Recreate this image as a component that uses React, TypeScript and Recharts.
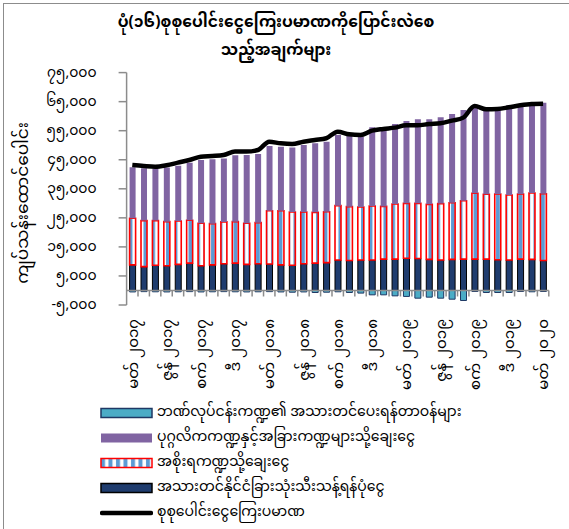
import React from 'react';
import { ComposedChart, Bar, Line, XAxis, YAxis, ReferenceLine, Legend } from 'recharts';

// Myanmar month short names; the series runs monthly from Mar 2017 to Mar 2020
const monthNames = ['ဇန်', 'ဖေ', 'မတ်', 'ဧပြီ', 'မေ', 'ဇွန်', 'ဇူ', 'ဩ', 'စက်', 'အောက်', 'နို', 'ဒီ'];
const startYear = 2017;
const startMonth = 2;

// ကျပ်သန်းထောင်ပေါင်း
const reserves = [8800, 8200, 8700, 8500, 9000, 9400, 8500, 8800, 9200, 9400, 9000, 9200, 9100, 8800, 8700, 9200, 9400, 9600, 10500, 10300, 10500, 10500, 10800, 10800, 11100, 11000, 10700, 10500, 10700, 10800, 10800, 10800, 10600, 10500, 10800, 10700, 10300];
const government = [16050, 15850, 15350, 15200, 14900, 14750, 14650, 14200, 14400, 14300, 14150, 14150, 18350, 18650, 18300, 17800, 17500, 17500, 18700, 18550, 18250, 18600, 18150, 18950, 18900, 19000, 18950, 19400, 19500, 20100, 22650, 22300, 22600, 22350, 22400, 22850, 23000];
const privateSector = [17550, 18050, 17900, 18600, 19050, 19850, 21800, 22150, 21800, 22850, 23500, 23650, 22250, 22050, 22250, 23050, 23750, 24100, 24350, 24350, 24200, 27100, 26250, 27550, 28350, 28900, 29250, 29750, 30550, 31200, 30400, 29950, 29950, 30900, 30850, 31100, 31300];
const bankLiabilities = [-500, -400, -450, -500, -450, -400, -500, -450, -400, -450, -500, -450, -400, -500, -600, -500, -700, -600, -450, -700, -900, -1500, -1500, -1850, -2050, -2650, -2300, -2650, -3000, -3450, -350, -700, -700, -700, -350, -450, -350];
const totalMoney = [43200, 42850, 42600, 43100, 44000, 44900, 46050, 46300, 46650, 47800, 47800, 48350, 51200, 50650, 50400, 51200, 51800, 52400, 54650, 53750, 53500, 55000, 55600, 56050, 56850, 56850, 57300, 57550, 58450, 59500, 63500, 62350, 62450, 63050, 63750, 64200, 64300];

const yTicks = [-5000, 5000, 15000, 25000, 35000, 45000, 55000, 65000, 75000];

const titleLines = ['ပုံ(၁၆)စုစုပေါင်းငွေကြေးပမာဏကိုပြောင်းလဲစေ', 'သည့်အချက်များ'];
const yTitle = 'ကျပ်သန်းထောင်ပေါင်း';

const names = {
  neg: 'ဘဏ်လုပ်ငန်းကဏ္ဍ၏ အသားတင်ပေးရန်တာဝန်များ',
  priv: 'ပုဂ္ဂလိကကဏ္ဍနှင့်အခြားကဏ္ဍများသို့ချေးငွေ',
  gov: 'အစိုးရကဏ္ဍသို့ချေးငွေ',
  res: 'အသားတင်နိုင်ငံခြားသုံးသီးသန့်ရန်ပုံငွေ',
  total: 'စုစုပေါင်းငွေကြေးပမာဏ',
};
const legendOrder = ['neg', 'priv', 'gov', 'res', 'total'];

const FONT = "'Noto Sans Myanmar', 'Padauk', 'Myanmar Text', 'Noto Sans', sans-serif";
const mmDigits = '၀၁၂၃၄၅၆၇၈၉';
const toMM = (s: string) => s.replace(/\d/g, (d) => mmDigits[Number(d)]);

const data = reserves.map((r, i) => {
  const m = startMonth + i;
  const year = startYear + Math.floor(m / 12);
  return {
    label: `${monthNames[m % 12]} ${toMM(String(year))}`,
    res: r,
    gov: government[i],
    priv: privateSector[i],
    neg: bankLiabilities[i],
    total: totalMoney[i],
  };
});

const XTick = ({ x, y, payload }: any) => (
  <text
    x={x}
    y={y + 6}
    transform={`rotate(-90, ${x}, ${y + 6})`}
    textAnchor="end"
    dy="0.35em"
    fontSize={15}
    fontFamily={FONT}
    fill="#000"
  >
    {payload.value}
  </text>
);

const YTick = ({ x, y, payload }: any) => (
  <text x={x} y={y} dy="0.3em" textAnchor="end" fontSize={14} fontFamily={FONT} fill="#000">
    {toMM(payload.value.toLocaleString('en-US'))}
  </text>
);

// zero line doubles as the category axis, with tick marks between categories
const ZeroAxis = (props: any) => {
  const { x1, y1, x2 } = props;
  const step = (x2 - x1) / data.length;
  return (
    <g>
      <line x1={x1} y1={y1} x2={x2} y2={y1} stroke="#8c8c8c" strokeWidth={1.5} />
      {data.map((_, i) => (
        <line key={i} x1={x1 + (i + 1) * step} y1={y1} x2={x1 + (i + 1) * step} y2={y1 + 6} stroke="#8c8c8c" strokeWidth={1.5} />
      ))}
    </g>
  );
};

const Swatch = ({ k }: { k: string }) => {
  if (k === 'total') {
    return (
      <svg width={53} height={12}>
        <line x1={2} y1={6} x2={51} y2={6} stroke="#000" strokeWidth={4.5} strokeLinecap="round" />
      </svg>
    );
  }
  const fill = k === 'neg' ? '#4bacc6' : k === 'priv' ? '#8064a2' : k === 'gov' ? 'url(#govStripeLegend)' : '#1f3c6e';
  const stroke = k === 'neg' ? '#1f3864' : k === 'priv' ? 'none' : k === 'gov' ? '#ff0000' : '#000';
  return (
    <svg width={53} height={12}>
      <defs>
        <pattern id="govStripeLegend" width={7.5} height={12} patternUnits="userSpaceOnUse">
          <rect x={0} y={0} width={7.5} height={12} fill="#fff" />
          <rect x={1} y={0} width={4} height={12} fill="#5b9bd5" />
        </pattern>
      </defs>
      <rect x={1} y={1.5} width={51} height={9} fill={fill} stroke={stroke} strokeWidth={1.5} />
    </svg>
  );
};

const LegendContent = () => (
  <div style={{ fontFamily: FONT, fontSize: 14, color: '#000' }}>
    {legendOrder.map((k) => (
      <div key={k} style={{ display: 'flex', alignItems: 'center', height: 25 }}>
        <Swatch k={k} />
        <span style={{ marginLeft: 4, whiteSpace: 'nowrap', lineHeight: '18px' }}>{(names as any)[k]}</span>
      </div>
    ))}
  </div>
);

export default function App() {
  return (
    <div style={{ position: 'absolute', left: 0, top: 0, width: 569, height: 529, background: '#fff', overflow: 'hidden' }}>
      <div style={{ position: 'absolute', left: 3, top: 3, width: 580, height: 540, borderLeft: '1.5px solid #8c8c8c', borderTop: '1.5px solid #8c8c8c' }} />
      <div style={{ position: 'absolute', left: 0, top: 9, width: 552, textAlign: 'center', fontFamily: FONT, fontWeight: 'bold', fontSize: 15.5, lineHeight: '28px' }}>
        {titleLines.map((t) => (
          <div key={t} style={{ height: 28 }}>{t}</div>
        ))}
      </div>
      <div
        style={{
          position: 'absolute',
          left: 24,
          top: 203,
          transform: 'translate(-50%, -50%) rotate(-90deg)',
          whiteSpace: 'nowrap',
          fontFamily: FONT,
          fontSize: 17,
        }}
      >
        {yTitle}
      </div>
      <ComposedChart
        width={569}
        height={529}
        data={data}
        stackOffset="sign"
        barGap={0}
        margin={{ top: 72.6, right: 20.2, bottom: 134, left: 0 }}
        style={{ position: 'absolute', left: 0, top: 0 }}
      >
        <defs>
          <pattern id="govStripe" width={7.5} height={10} patternUnits="userSpaceOnUse">
            <rect x={0} y={0} width={7.5} height={10} fill="#fff" />
            <rect x={1} y={0} width={4} height={10} fill="#5b9bd5" />
          </pattern>
        </defs>
        <XAxis dataKey="label" interval={2} axisLine={false} tickLine={false} height={90} tick={<XTick />} />
        <YAxis
          width={126.6}
          domain={[-5000, 75000]}
          ticks={yTicks}
          allowDataOverflow
          tickSize={8}
          tickMargin={22}
          axisLine={{ stroke: '#8c8c8c', strokeWidth: 1.5 }}
          tickLine={{ stroke: '#8c8c8c', strokeWidth: 1.5 }}
          tick={<YTick />}
        />
        <Bar dataKey="res" name={names.res} stackId="a" barSize={6} fill="#1f3c6e" stroke="#000" strokeWidth={1} isAnimationActive={false} />
        <Bar dataKey="gov" name={names.gov} stackId="a" barSize={6} fill="url(#govStripe)" stroke="#ff0000" strokeWidth={1.6} isAnimationActive={false} />
        <Bar dataKey="priv" name={names.priv} stackId="a" barSize={6} fill="#8064a2" isAnimationActive={false} />
        <Bar dataKey="neg" name={names.neg} stackId="a" barSize={6} fill="#4bacc6" stroke="#1f3864" strokeWidth={1} isAnimationActive={false} />
        <ReferenceLine y={0} shape={<ZeroAxis />} />
        <Line dataKey="total" name={names.total} type="monotone" stroke="#000" strokeWidth={4.5} dot={false} isAnimationActive={false} />
        <Legend
          layout="horizontal"
          verticalAlign="middle"
          align="center"
          content={<LegendContent />}
          wrapperStyle={{ position: 'absolute', left: 100, top: 400, width: 469 }}
        />
      </ComposedChart>
    </div>
  );
}
